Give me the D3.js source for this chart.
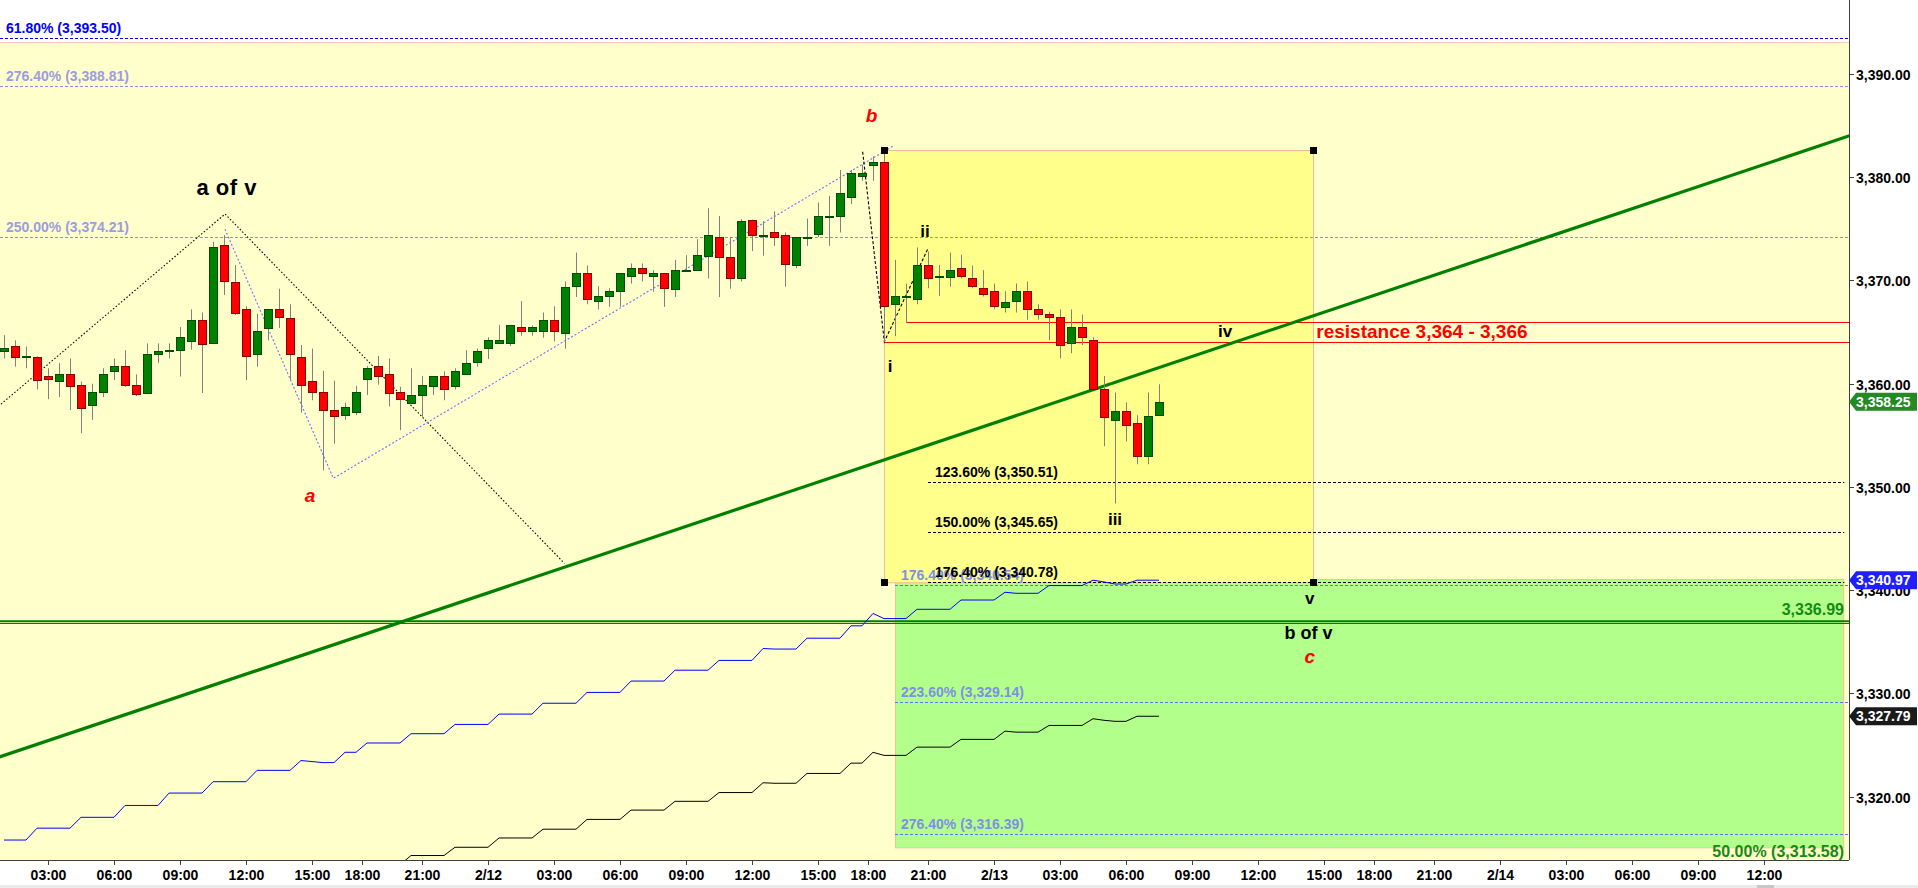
<!DOCTYPE html>
<meta charset="utf-8">

<head>
    <!-- Load d3.js -->
    <script src="https://d3js.org/d3.v7.min.js"></script>
</head>

<body>
    <div id="svg_div"></div>
</body>

<style>
    body {
        margin: 0;
        background: #ffffff;
        overflow: hidden;
    }

    text {
        font-family: "Liberation Sans", Arial, sans-serif;
    }
</style>
<script>

    // 30 minute bars, bar 0 = 2/11 01:00
    var bar_open = [3363.2, 3363.7, 3362.6, 3362.6, 3360.7, 3360.2, 3360.9, 3359.9, 3357.9, 3359.15,
        3361.2, 3361.7, 3359.9, 3359.15, 3362.9, 3363.2, 3363.2, 3364.2, 3366.2, 3363.9,
        3373.4, 3369.9, 3367.2, 3362.9, 3365.4, 3367.2, 3366.4, 3362.6, 3360.25, 3359.15,
        3357.45, 3356.9, 3357.2, 3360.4, 3361.7, 3360.9, 3359.15, 3358.2, 3358.95, 3359.75,
        3360.7, 3359.7, 3360.9, 3362.15, 3363.4, 3363.9, 3363.9, 3365.45, 3365.1, 3365.15,
        3366.2, 3364.95, 3369.45, 3370.7, 3367.95, 3368.45, 3368.95, 3370.4, 3371.2, 3370.4,
        3370.7, 3369.2, 3371.0, 3371.0, 3372.45, 3374.2, 3372.25, 3370.2, 3375.9, 3374.4,
        3374.65, 3374.45, 3371.45, 3374.15, 3374.5, 3376.2, 3376.2, 3378.15, 3380.2, 3381.15,
        3381.45, 3367.7, 3368.45, 3368.2, 3371.5, 3370.4, 3370.35, 3371.2, 3370.2, 3369.25,
        3368.95, 3367.5, 3367.95, 3368.95, 3367.2, 3366.75, 3366.45, 3363.9, 3365.45, 3364.2,
        3359.45, 3356.5, 3357.4, 3356.15, 3353.0, 3356.95];
    var bar_high = [3364.7, 3364.2, 3363.6, 3362.65, 3361.5, 3362.0, 3362.45, 3360.2, 3360.0, 3361.5,
        3362.45, 3363.25, 3360.9, 3363.9, 3363.9, 3363.9, 3365.5, 3367.2, 3366.9, 3373.75,
        3374.4, 3371.5, 3367.5, 3366.75, 3367.2, 3369.2, 3367.7, 3363.75, 3363.4, 3361.25,
        3360.3, 3358.15, 3359.8, 3361.7, 3362.7, 3362.45, 3359.7, 3361.5, 3360.75, 3360.7,
        3361.2, 3361.5, 3363.25, 3363.4, 3364.5, 3365.7, 3365.65, 3368.0, 3365.65, 3366.9,
        3367.5, 3369.9, 3372.7, 3371.45, 3369.45, 3369.25, 3370.7, 3371.65, 3371.65, 3371.0,
        3370.7, 3372.0, 3372.45, 3374.0, 3377.0, 3376.25, 3374.2, 3375.95, 3375.9, 3375.75,
        3376.7, 3374.65, 3374.2, 3376.0, 3377.55, 3378.2, 3380.7, 3380.7, 3381.2, 3382.0,
        3382.65, 3372.0, 3369.7, 3373.2, 3372.8, 3371.5, 3372.7, 3372.5, 3371.45, 3371.0,
        3369.7, 3368.95, 3369.7, 3369.9, 3367.7, 3366.98, 3367.2, 3367.2, 3366.7, 3364.5,
        3360.75, 3359.15, 3358.2, 3356.95, 3359.15, 3359.95];
    var bar_low = [3362.45, 3361.65, 3361.5, 3359.45, 3358.5, 3358.7, 3357.45, 3355.2, 3356.5, 3358.7,
        3360.35, 3359.7, 3358.8, 3359.1, 3362.0, 3362.45, 3360.7, 3363.3, 3359.1, 3363.9,
        3368.6, 3366.65, 3360.35, 3361.65, 3364.2, 3365.4, 3360.35, 3357.2, 3358.4, 3351.6,
        3354.2, 3356.5, 3356.95, 3358.9, 3359.9, 3357.8, 3355.5, 3358.1, 3356.8, 3358.9,
        3358.4, 3359.45, 3360.9, 3361.65, 3362.4, 3363.9, 3363.65, 3364.65, 3364.65, 3364.45,
        3364.1, 3363.4, 3368.4, 3367.7, 3367.2, 3367.45, 3367.45, 3369.7, 3369.9, 3368.9,
        3367.45, 3368.4, 3371.0, 3371.0, 3370.2, 3368.4, 3369.2, 3369.9, 3372.85, 3372.4,
        3373.35, 3369.4, 3371.2, 3373.35, 3374.2, 3373.35, 3374.65, 3377.4, 3379.65, 3379.65,
        3364.05, 3364.6, 3365.9, 3367.7, 3369.25, 3368.5, 3369.4, 3370.2, 3369.25, 3368.45,
        3367.2, 3366.9, 3366.9, 3366.2, 3366.2, 3364.2, 3362.45, 3362.95, 3363.75, 3359.45,
        3353.95, 3348.4, 3354.4, 3352.2, 3352.2, 3356.95];
    var bar_close = [3363.45, 3362.6, 3362.65, 3360.4, 3360.4, 3360.9, 3359.7, 3357.7, 3359.15, 3360.9,
        3361.7, 3359.9, 3359.0, 3362.9, 3363.2, 3363.25, 3364.5, 3366.2, 3363.9, 3373.2,
        3369.9, 3366.9, 3362.6, 3365.15, 3367.2, 3366.4, 3362.9, 3359.9, 3359.15, 3357.4,
        3356.9, 3357.7, 3359.15, 3361.5, 3360.7, 3359.1, 3358.5, 3358.95, 3359.9, 3360.7,
        3359.45, 3361.2, 3362.0, 3363.2, 3364.2, 3364.2, 3365.65, 3365.1, 3365.45, 3366.2,
        3365.15, 3369.4, 3370.7, 3368.15, 3368.45, 3368.95, 3370.7, 3371.2, 3370.7, 3370.7,
        3369.2, 3371.0, 3371.05, 3372.45, 3374.45, 3372.25, 3370.2, 3375.75, 3374.45, 3374.45,
        3374.2, 3371.6, 3374.2, 3374.2, 3376.2, 3376.25, 3378.45, 3380.45, 3380.45, 3381.45,
        3367.5, 3368.5, 3368.5, 3371.5, 3370.2, 3370.45, 3371.0, 3370.45, 3369.45, 3368.7,
        3367.5, 3367.95, 3368.95, 3367.2, 3366.7, 3366.45, 3363.7, 3365.45, 3364.5, 3359.45,
        3356.75, 3357.4, 3356.0, 3353.0, 3356.9, 3358.25];

    // stepped indicator lines, one value per bar
    var blue_line = [3315.8, 3315.8, 3315.8, 3316.95, 3316.95, 3316.95, 3316.95, 3318.0, 3318.0, 3318.0,
        3318.0, 3319.15, 3319.15, 3319.15, 3319.15, 3320.35, 3320.35, 3320.35, 3320.35, 3321.45,
        3321.45, 3321.45, 3321.45, 3322.55, 3322.55, 3322.55, 3322.55, 3323.5, 3323.4, 3323.3,
        3323.3, 3324.3, 3324.3, 3325.2, 3325.2, 3325.2, 3325.2, 3326.1, 3326.1, 3326.1,
        3326.1, 3327.0, 3327.0, 3327.0, 3327.0, 3328.0, 3328.0, 3328.0, 3328.0, 3329.05,
        3329.05, 3329.05, 3329.05, 3330.1, 3330.1, 3330.1, 3330.1, 3331.2, 3331.2, 3331.2,
        3331.2, 3332.25, 3332.25, 3332.25, 3332.25, 3333.2, 3333.2, 3333.2, 3333.2, 3334.35,
        3334.3, 3334.3, 3334.3, 3335.35, 3335.35, 3335.35, 3335.35, 3336.55, 3336.55, 3337.75,
        3337.25, 3337.25, 3337.25, 3338.15, 3338.15, 3338.15, 3338.15, 3339.05, 3339.05, 3339.05,
        3339.05, 3339.8, 3339.7, 3339.7, 3339.7, 3340.45, 3340.45, 3340.45, 3340.45, 3340.97,
        3340.8, 3340.6, 3340.6, 3340.97, 3340.97, 3340.97];
    var black_line_first_bar = 33;
    var black_line = [3313.4, 3313.4, 3313.4, 3313.4, 3314.3, 3314.3, 3314.3, 3314.3, 3315.1, 3315.1,
        3315.1, 3315.1, 3316.0, 3316.0, 3316.0, 3316.0, 3316.85, 3316.85, 3316.85, 3316.85,
        3317.8, 3317.8, 3317.8, 3317.8, 3318.7, 3318.7, 3318.7, 3318.7, 3319.55, 3319.55,
        3319.55, 3319.55, 3320.4, 3320.4, 3320.4, 3320.4, 3321.35, 3321.3, 3321.3, 3321.3,
        3322.25, 3322.25, 3322.25, 3322.25, 3323.25, 3323.25, 3324.3, 3324.0, 3324.0, 3324.0,
        3324.8, 3324.8, 3324.8, 3324.8, 3325.55, 3325.55, 3325.55, 3325.55, 3326.35, 3326.25,
        3326.25, 3326.25, 3326.9, 3326.9, 3326.9, 3326.9, 3327.55, 3327.4, 3327.3, 3327.3,
        3327.79, 3327.79, 3327.79];

    // time axis
    var tick_bars = [4, 10, 16, 22, 28, 32.5, 38, 44, 50, 56, 62, 68, 74, 78.5, 84, 90,
        96, 102, 108, 114, 120, 124.5, 130, 136, 142, 148, 154, 160];
    var tick_labels = ["03:00", "06:00", "09:00", "12:00", "15:00", "18:00", "21:00", "2/12",
        "03:00", "06:00", "09:00", "12:00", "15:00", "18:00", "21:00", "2/13",
        "03:00", "06:00", "09:00", "12:00", "15:00", "18:00", "21:00", "2/14",
        "03:00", "06:00", "09:00", "12:00"];
    var price_ticks = [3320, 3330, 3340, 3350, 3360, 3370, 3380, 3390];

    // fibonacci levels
    var fib_top_pct = ["61.80%", "276.40%", "250.00%"];
    var fib_top_price = [3393.50, 3388.81, 3374.21];
    var fib_low_pct = ["176.40%", "223.60%", "276.40%"];
    var fib_low_price = [3340.54, 3329.14, 3316.39];
    var fib_ext_pct = ["123.60%", "150.00%", "176.40%"];
    var fib_ext_price = [3350.51, 3345.65, 3340.78];
    var retrace_pct = "50.00%";
    var retrace_price = 3313.58;

    // zones and lines (bar index / price)
    var zone_top = 3393.1;
    var box_bars = [80, 119];
    var box_prices = [3382.65, 3340.78];
    var target_bars = [81, 167.2];
    var target_prices = [3341.05, 3315.06];
    var resistance_prices = [3366, 3364];
    var resistance_from = [82, 80];
    var support_price = 3336.99;
    var support_red_price = 3336.8;
    var trend_bars = [-1, 168];
    var trend_prices = [3323.64, 3384.1];

    // wave paths
    var wave_abc_bars = [-1, 20.1, 50.95];
    var wave_abc_prices = [3357.36, 3376.44, 3342.6];
    var wave_sub_bars = [20.09, 29.94, 80.85];
    var wave_sub_prices = [3374.96, 3350.84, 3383.03];
    var wave_i_bars = [78.06, 80.03, 84.0];
    var wave_i_prices = [3382.47, 3364.07, 3373.1];

    // wave labels
    var wave_names = ["a of v", "b", "a", "i", "ii", "iii", "iv", "v", "b of v", "c"];
    var wave_name_bars = [20.25, 78.87, 27.82, 80.55, 83.73, 101.0, 111.0, 118.7, 118.6, 118.7];
    var wave_name_prices = [3378.28, 3385.35, 3348.54, 3361.14, 3374.21, 3346.32, 3364.53, 3338.66, 3335.27, 3332.95];

    var resistance_text = "resistance 3,364 - 3,366";
    var last_close = 3358.25;
    var blue_last = 3340.97;
    var black_last = 3327.79;

    function draw_chart() {

        let width = 1918, height = 888;
        let plot_right = 1849, plot_bottom = 860;
        let fmt = d3.format(",.2f");

        let svg = d3.select("#svg_div").append("svg")
            .attr("width", width)
            .attr("height", height);

        let x = d3.scaleLinear().domain([0, 167.727]).range([4, plot_right]);
        let y = d3.scaleLinear().domain([3320, 3390]).range([796.68, 74]);

        svg.append("defs").append("clipPath").attr("id", "plot_clip")
            .append("rect").attr("x", 0).attr("y", 0)
            .attr("width", plot_right).attr("height", plot_bottom);

        svg.append("rect").attr("width", width).attr("height", height).attr("fill", "#ffffff");

        let plot = svg.append("g").attr("clip-path", "url(#plot_clip)");

        // pale zone
        plot.append("rect")
            .attr("x", 0).attr("y", y(zone_top))
            .attr("width", plot_right).attr("height", plot_bottom - y(zone_top) + 5)
            .attr("fill", "#ffffcc");
        plot.append("line")
            .attr("x1", 0).attr("x2", plot_right)
            .attr("y1", Math.round(y(zone_top)) + 0.5).attr("y2", Math.round(y(zone_top)) + 0.5)
            .attr("stroke", "#ffc4c4");

        // target box
        plot.append("rect")
            .attr("x", Math.round(x(target_bars[0])) + 0.5).attr("y", Math.round(y(target_prices[0])) + 0.5)
            .attr("width", x(target_bars[1]) - x(target_bars[0]))
            .attr("height", y(target_prices[1]) - y(target_prices[0]))
            .attr("fill", "#b3ff8c").attr("stroke", "#f4c08e");

        // wave box
        plot.append("rect")
            .attr("x", Math.round(x(box_bars[0])) + 0.5).attr("y", Math.round(y(box_prices[0])) + 0.5)
            .attr("width", x(box_bars[1]) - x(box_bars[0]))
            .attr("height", y(box_prices[1]) - y(box_prices[0]))
            .attr("fill", "#ffff8c").attr("stroke", "#f4b8a0");

        function hline(g, price, x1, x2, color, dash, w) {
            let yy = Math.round(y(price)) + 0.5;
            g.append("line")
                .attr("x1", x1).attr("x2", x2).attr("y1", yy).attr("y2", yy)
                .attr("stroke", color).attr("stroke-width", w || 1)
                .attr("stroke-dasharray", dash);
        }

        // fib lines
        fib_top_price.forEach(function (p, i) {
            hline(plot, p, 0, plot_right, i == 0 ? "#0000ff" : "#8a8af0", "3,2");
        });
        fib_low_price.forEach(function (p) {
            hline(plot, p, x(target_bars[0]), plot_right, "#5f6fff", "3,2");
        });
        fib_ext_price.forEach(function (p) {
            hline(plot, p, x(84), x(167.3), "#000000", "3,2");
        });
        hline(plot, retrace_price, x(target_bars[0]), plot_right, "#5f6fff", "3,2");

        // support / resistance
        hline(plot, support_red_price, 0, plot_right, "#ff0000", null, 1);
        plot.append("line")
            .attr("x1", 0).attr("x2", plot_right)
            .attr("y1", y(support_price)).attr("y2", y(support_price))
            .attr("stroke", "#008000").attr("stroke-width", 2);
        resistance_prices.forEach(function (p, i) {
            hline(plot, p, x(resistance_from[i]), plot_right, "#ff0000", null, 1);
        });

        // stepped lines
        let step_line = d3.line()
            .x(function (d) { return x(d.bar); })
            .y(function (d) { return y(d.value); });

        plot.append("path")
            .datum(blue_line.map(function (v, i) { return { bar: i, value: v }; }))
            .attr("d", step_line)
            .attr("fill", "none").attr("stroke", "#0000ff").attr("stroke-width", 1);
        plot.append("path")
            .datum(black_line.map(function (v, i) { return { bar: i + black_line_first_bar, value: v }; }))
            .attr("d", step_line)
            .attr("fill", "none").attr("stroke", "#000000").attr("stroke-width", 1);

        // trend line
        plot.append("line")
            .attr("x1", x(trend_bars[0])).attr("y1", y(trend_prices[0]))
            .attr("x2", x(trend_bars[1])).attr("y2", y(trend_prices[1]))
            .attr("stroke", "#008000").attr("stroke-width", 3.2);

        // wave paths
        function wave(bars, prices, color, dash) {
            plot.append("path")
                .datum(bars.map(function (b, i) { return { bar: b, value: prices[i] }; }))
                .attr("d", step_line)
                .attr("fill", "none").attr("stroke", color)
                .attr("stroke-width", 1.1).attr("stroke-dasharray", dash);
        }
        wave(wave_abc_bars, wave_abc_prices, "#000000", "1.5,2");
        wave(wave_sub_bars, wave_sub_prices, "#6f6fff", "2,2");
        wave(wave_i_bars, wave_i_prices, "#000000", "3,2");

        // candles
        let bars = bar_open.map(function (o, i) {
            return { i: i, open: o, high: bar_high[i], low: bar_low[i], close: bar_close[i] };
        });

        let candles = plot.append("g");
        candles.selectAll(".wick")
            .data(bars)
            .enter().append("line")
            .attr("class", "wick")
            .attr("x1", function (d) { return Math.round(x(d.i)) + 0.5; })
            .attr("x2", function (d) { return Math.round(x(d.i)) + 0.5; })
            .attr("y1", function (d) { return y(d.high); })
            .attr("y2", function (d) { return y(d.low); })
            .attr("stroke", "#808080");

        candles.selectAll(".body")
            .data(bars)
            .enter().append("rect")
            .attr("class", "body")
            .attr("x", function (d) { return Math.round(x(d.i)) - 4 + 0.5; })
            .attr("width", 8)
            .attr("y", function (d) { return Math.round(y(Math.max(d.open, d.close))) + 0.5; })
            .attr("height", function (d) {
                return Math.max(1, Math.round(Math.abs(y(d.open) - y(d.close))));
            })
            .attr("fill", function (d) { return d.close >= d.open ? "#008000" : "#ff0000"; })
            .attr("stroke", function (d) { return d.close >= d.open ? "#004d00" : "#8b0000"; })
            .attr("stroke-width", 1);

        // box corner handles
        [[box_bars[0], box_prices[0]], [box_bars[1], box_prices[0]],
        [box_bars[0], box_prices[1]], [box_bars[1], box_prices[1]]].forEach(function (c) {
            plot.append("rect")
                .attr("x", Math.round(x(c[0])) - 3).attr("y", Math.round(y(c[1])) - 3)
                .attr("width", 7).attr("height", 7)
                .attr("fill", "#000000");
        });

        // fib labels
        let labels = svg.append("g").attr("font-size", "14px").attr("font-weight", "bold");
        fib_top_price.forEach(function (p, i) {
            labels.append("text")
                .attr("x", 6).attr("y", y(p) - 5)
                .attr("fill", i == 0 ? "#0000ff" : "#9c9ce0")
                .text(fib_top_pct[i] + " (" + fmt(p) + ")");
        });
        fib_low_price.forEach(function (p, i) {
            labels.append("text")
                .attr("x", x(target_bars[0]) + 6).attr("y", y(p) - 5)
                .attr("fill", "#7f8fe3")
                .text(fib_low_pct[i] + " (" + fmt(p) + ")");
        });
        fib_ext_price.forEach(function (p, i) {
            labels.append("text")
                .attr("x", x(84) + 7).attr("y", y(p) - 5)
                .attr("fill", "#000000")
                .text(fib_ext_pct[i] + " (" + fmt(p) + ")");
        });

        svg.append("text")
            .attr("x", plot_right - 5).attr("y", y(retrace_price) - 6)
            .attr("text-anchor", "end").attr("font-size", "16px").attr("font-weight", "bold")
            .attr("fill", "#138a13")
            .text(retrace_pct + " (" + fmt(retrace_price) + ")");
        svg.append("text")
            .attr("x", plot_right - 5).attr("y", y(support_price) - 6)
            .attr("text-anchor", "end").attr("font-size", "16px").attr("font-weight", "bold")
            .attr("fill", "#138a13")
            .text(fmt(support_price));

        svg.append("text")
            .attr("x", x(119.3)).attr("y", y(3364.43))
            .attr("font-size", "19px").attr("font-weight", "bold").attr("fill", "#ff0000")
            .text(resistance_text);

        // wave labels
        wave_names.forEach(function (name, i) {
            let t = svg.append("text")
                .attr("x", x(wave_name_bars[i])).attr("y", y(wave_name_prices[i]))
                .attr("text-anchor", "middle")
                .text(name);
            if (name == "a of v") {
                t.attr("font-size", "22px").attr("font-weight", "bold")
                    .attr("letter-spacing", "0.5px").attr("fill", "#000000");
            } else if (name == "b of v") {
                t.attr("font-size", "18px").attr("font-weight", "bold").attr("fill", "#000000");
            } else if (name == "a" || name == "b" || name == "c") {
                t.attr("font-size", "19px").attr("font-weight", "bold")
                    .attr("font-style", "italic").attr("fill", "#ff0000");
            } else {
                t.attr("font-size", "17px").attr("font-weight", "bold").attr("fill", "#000000");
            }
        });

        // axes
        svg.append("line")
            .attr("x1", 0).attr("x2", plot_right)
            .attr("y1", plot_bottom + 0.5).attr("y2", plot_bottom + 0.5)
            .attr("stroke", "#404040");
        svg.append("line")
            .attr("x1", plot_right + 0.5).attr("x2", plot_right + 0.5)
            .attr("y1", 0).attr("y2", plot_bottom)
            .attr("stroke", "#404040");

        let xaxis = svg.append("g");
        tick_bars.forEach(function (b, i) {
            let xx = Math.round(x(b)) + 0.5;
            xaxis.append("line")
                .attr("x1", xx).attr("x2", xx)
                .attr("y1", plot_bottom).attr("y2", plot_bottom + 5)
                .attr("stroke", "#404040");
            xaxis.append("text")
                .attr("x", xx).attr("y", 880)
                .attr("text-anchor", "middle")
                .attr("font-size", "14px").attr("font-weight", "bold")
                .attr("fill", "#000000")
                .text(tick_labels[i]);
        });

        let yaxis = svg.append("g");
        price_ticks.forEach(function (p) {
            let yy = Math.round(y(p)) + 0.5;
            yaxis.append("line")
                .attr("x1", plot_right).attr("x2", plot_right + 5)
                .attr("y1", yy).attr("y2", yy)
                .attr("stroke", "#404040");
            yaxis.append("text")
                .attr("x", plot_right + 7).attr("y", yy + 5)
                .attr("font-size", "14px").attr("font-weight", "bold")
                .attr("fill", "#000000")
                .text(fmt(p));
        });

        // last value badges
        [[last_close, "#228b22"], [blue_last, "#1f1fff"], [black_last, "#1a1a1a"]].forEach(function (b) {
            let yy = y(b[0]);
            svg.append("path")
                .attr("d", "M" + plot_right + "," + yy + "L" + (plot_right + 7) + "," + (yy - 9) +
                    "L1917," + (yy - 9) + "L1917," + (yy + 9) + "L" + (plot_right + 7) + "," + (yy + 9) + "Z")
                .attr("fill", b[1]);
            svg.append("text")
                .attr("x", plot_right + 7).attr("y", yy + 5)
                .attr("font-size", "14px").attr("font-weight", "bold")
                .attr("fill", "#ffffff")
                .text(fmt(b[0]));
        });

        // bottom strip
        svg.append("rect")
            .attr("x", 0).attr("y", 885).attr("width", width).attr("height", 3)
            .attr("fill", "#ececec");
        svg.append("rect")
            .attr("x", 1757).attr("y", 885).attr("width", 17).attr("height", 3)
            .attr("fill", "#c8c8c8");
    }

    draw_chart();

</script>
